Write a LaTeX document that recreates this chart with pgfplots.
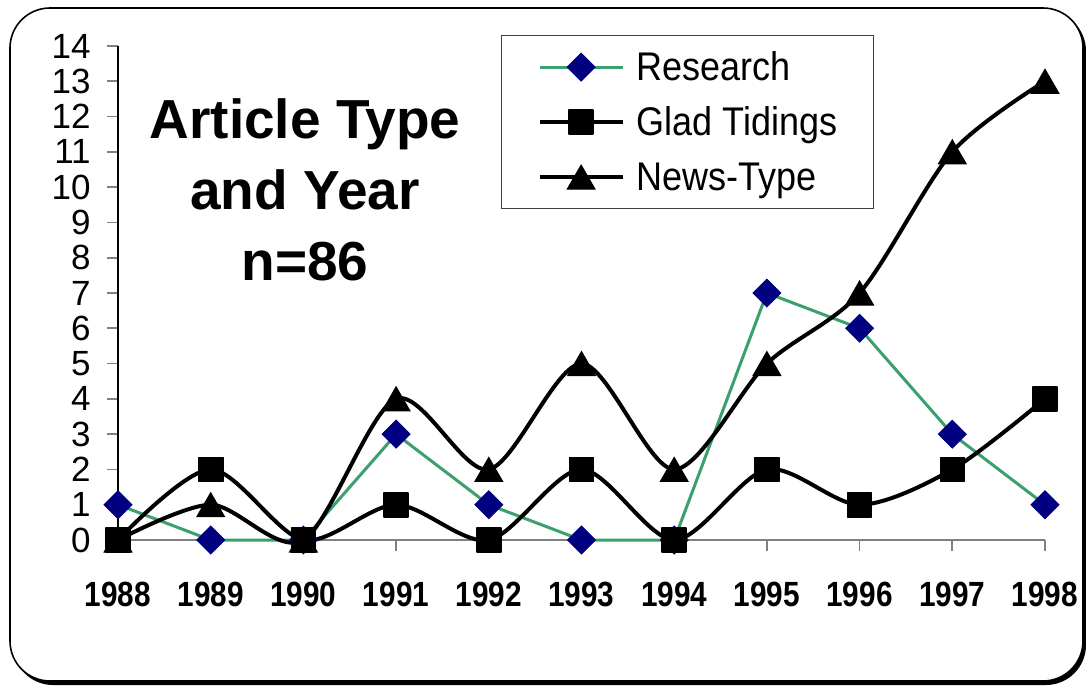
\documentclass[border=0pt]{standalone}
\usepackage{fontspec}
\setmainfont{Liberation Sans}
\usepackage{graphicx}
\usepackage{pgfplots}
\pgfplotsset{compat=1.18}
\definecolor{resgreen}{RGB}{60,160,110}
\definecolor{resnavy}{RGB}{0,0,128}
\definecolor{axgray}{RGB}{128,128,128}
\newcommand\xl[1]{\scalebox{0.85}[1]{#1}}
\newcommand\legtxt[1]{\scalebox{0.9}[1]{#1}}

\begin{document}
\begin{tikzpicture}
\useasboundingbox (-59pt,-73.5pt) rectangle (484pt,270pt);
% frame with shadow
\fill[black, rounded corners=20pt] (-52.5pt,-72.5pt) rectangle (484pt,264.5pt);
\filldraw[fill=white, draw=black, line width=0.8pt, rounded corners=20pt]
  (-54pt,-70.5pt) rectangle (482.5pt,266pt);

\begin{axis}[
  at={(0pt,0pt)}, anchor=south west,
  scale only axis, width=463.5pt, height=247pt,
  xmin=1988, xmax=1998, ymin=0, ymax=14,
  clip=false,
  axis x line*=bottom, axis y line*=left,
  x axis line style={axgray, line width=1pt},
  y axis line style={black, line width=0.8pt},
  xtick={1988,...,1998}, ytick={0,...,14},
  tick align=outside, major tick length=5.5pt,
  tick style={axgray, line width=0.8pt},
  xticklabels={\xl{1988},\xl{1989},\xl{1990},\xl{1991},\xl{1992},\xl{1993},
               \xl{1994},\xl{1995},\xl{1996},\xl{1997},\xl{1998}},
  xticklabel style={font=\fontsize{17.5}{20}\selectfont\bfseries, inner sep=0pt, yshift=-15.5pt},
  yticklabel style={font=\fontsize{17.5}{20}\selectfont, inner sep=0pt, xshift=-8pt},
  /pgf/number format/assume math mode=true,
  legend style={at={(0.4132,1.0223)}, anchor=north west,
    draw=black!75, line width=0.6pt,
    inner xsep=18pt, inner ysep=6.75pt,
    row sep=9.5pt, column sep=6pt,
    font=\fontsize{20}{24}\selectfont,
    nodes={inner sep=0pt, text height=15.5pt, text depth=2.5pt}},
  legend cell align=left,
  legend image code/.code={\draw[mark repeat=2,mark phase=2]
    plot coordinates {(0pt,0pt) (20.75pt,0pt) (41.5pt,0pt)};},
]
\addplot[resgreen, line width=1.5pt, mark=square*, mark size=4.9pt,
  mark options={rotate=45, fill=resnavy, draw=resnavy, line width=0.5pt}]
  coordinates {(1988,1) (1989,0) (1990,0) (1991,3) (1992,1) (1993,0)
               (1994,0) (1995,7) (1996,6) (1997,3) (1998,1)};
\addplot[black, line width=2pt, smooth, tension=0.5, mark=square*, mark size=6pt,
  mark options={fill=black, line width=0.8pt, line join=round}]
  coordinates {(1988,0) (1989,2) (1990,0) (1991,1) (1992,0) (1993,2)
               (1994,0) (1995,2) (1996,1) (1997,2) (1998,4)};
\addplot[black, line width=2pt, smooth, tension=0.5, mark=triangle*, mark size=8pt,
  mark options={fill=black, line width=0.5pt, yshift=-2pt}]
  coordinates {(1988,0) (1989,1) (1990,0) (1991,4) (1992,2) (1993,5)
               (1994,2) (1995,5) (1996,7) (1997,11) (1998,13)};
\legend{\legtxt{Research}, \legtxt{Glad Tidings}, \legtxt{News-Type}}
\end{axis}

\node[align=center, inner sep=0pt, font=\fontsize{27.5}{35.5}\selectfont\bfseries]
  at (93.5pt,175pt) {Article Type\\and Year\\n=86};
\end{tikzpicture}
\end{document}
